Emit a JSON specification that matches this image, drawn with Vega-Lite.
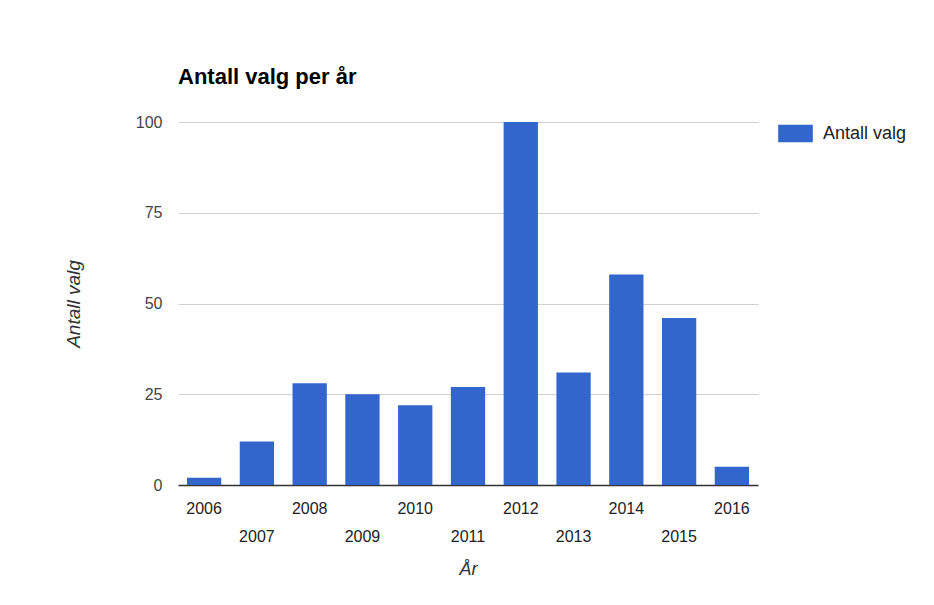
{
  "$schema": "https://vega.github.io/schema/vega-lite/v6.json",
  "width": 580,
  "height": 363,
  "autosize": {"type": "none"},
  "padding": {"left": 178, "top": 122, "right": 176, "bottom": 120},
  "background": "white",
  "title": {
    "text": "Antall valg per år",
    "anchor": "start",
    "frame": "group",
    "font": "Liberation Sans",
    "fontSize": 22,
    "fontWeight": "bold",
    "color": "#000000",
    "offset": 25
  },
  "data": {
    "values": [
      {"year": "2006", "count": 2, "series": "Antall valg"},
      {"year": "2007", "count": 12, "series": "Antall valg"},
      {"year": "2008", "count": 28, "series": "Antall valg"},
      {"year": "2009", "count": 25, "series": "Antall valg"},
      {"year": "2010", "count": 22, "series": "Antall valg"},
      {"year": "2011", "count": 27, "series": "Antall valg"},
      {"year": "2012", "count": 100, "series": "Antall valg"},
      {"year": "2013", "count": 31, "series": "Antall valg"},
      {"year": "2014", "count": 58, "series": "Antall valg"},
      {"year": "2015", "count": 46, "series": "Antall valg"},
      {"year": "2016", "count": 5, "series": "Antall valg"}
    ]
  },
  "mark": {"type": "bar"},
  "encoding": {
    "x": {
      "field": "year",
      "type": "ordinal",
      "scale": {"paddingInner": 0.35, "paddingOuter": 0.17},
      "axis": {
        "title": "År",
        "titleFont": "Liberation Sans",
        "titleFontSize": 18,
        "titleFontStyle": "italic",
        "titleFontWeight": "normal",
        "titleColor": "#333333",
        "titlePadding": 16,
        "labelAngle": 0,
        "labelFont": "Liberation Sans",
        "labelFontSize": 16,
        "labelColor": "#222222",
        "labelPadding": 15,
        "labelBaseline": "top",
        "labelLineHeight": 28,
        "labelExpr": "toNumber(datum.value) % 2 == 1 ? ['', datum.label] : datum.label",
        "ticks": false,
        "domainColor": "#333333",
        "domainWidth": 1.5,
        "grid": false
      }
    },
    "y": {
      "field": "count",
      "type": "quantitative",
      "scale": {"domain": [0, 100]},
      "axis": {
        "title": "Antall valg",
        "titleFont": "Liberation Sans",
        "titleFontSize": 19,
        "titleFontStyle": "italic",
        "titleFontWeight": "normal",
        "titleColor": "#333333",
        "titlePadding": 52,
        "values": [0, 25, 50, 75, 100],
        "labelFont": "Liberation Sans",
        "labelFontSize": 16,
        "labelColor": "#444444",
        "labelPadding": 16,
        "ticks": false,
        "domain": false,
        "gridColor": "#d0d0d0",
        "gridWidth": 1.2
      }
    },
    "color": {
      "field": "series",
      "type": "nominal",
      "scale": {"range": ["#3366cc"]},
      "legend": {
        "title": null,
        "orient": "none",
        "legendX": 600,
        "legendY": -6,
        "padding": 0,
        "symbolType": "M-1,-0.5H1V0.5H-1Z",
        "symbolSize": 1200,
        "symbolStrokeWidth": 0,
        "labelFont": "Liberation Sans",
        "labelFontSize": 18,
        "labelColor": "#222222",
        "labelOffset": 10
      }
    }
  },
  "config": {
    "view": {"stroke": null}
  }
}
